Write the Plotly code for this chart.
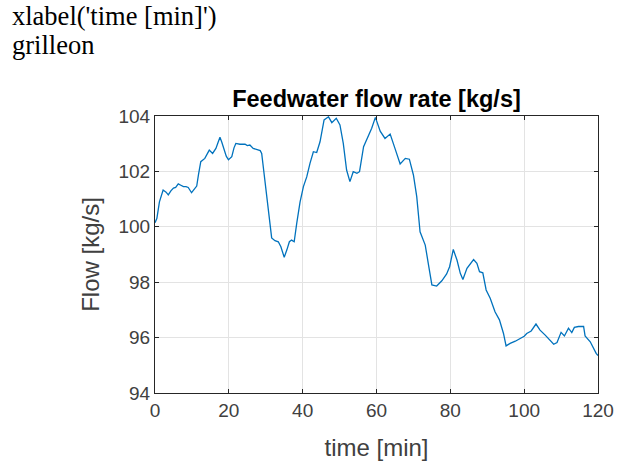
import plotly.graph_objects as go

time_min = [0.0, 0.5, 1.2, 2.2, 3.0, 3.6, 4.3, 5.0, 5.6, 6.3, 7.0, 7.7, 8.4, 9.0, 9.9, 10.6, 11.3, 11.8,
            12.4, 13.5, 14.1, 14.7, 15.6, 16.5, 17.1, 17.6, 18.1, 18.7, 19.3, 19.9, 20.8, 21.4, 21.9,
            23.0, 24.4, 25.0, 25.7, 26.6, 27.5, 28.5, 28.9, 29.5, 30.3, 31.0, 31.6, 32.5, 33.4, 34.1,
            34.5, 35.0, 35.7, 36.4, 37.0, 37.7, 38.4, 39.3, 40.2, 41.1, 42.0, 42.9, 43.8, 44.7, 45.3,
            45.8, 47.0, 47.9, 49.1, 50.1, 51.0, 51.9, 52.8, 53.7, 54.7, 55.4, 56.5, 57.8, 58.7, 59.7,
            60.4, 61.0, 62.3, 63.7, 65.0, 66.4, 67.8, 68.9, 70.0, 70.9, 71.8, 73.2, 74.1, 75.0, 76.3,
            77.7, 79.0, 79.8, 80.8, 81.8, 82.7, 83.4, 84.5, 85.4, 86.3, 87.2, 87.9, 88.8, 89.7, 90.8,
            92.1, 93.3, 94.4, 95.1, 96.2, 97.6, 98.9, 100.0, 100.7, 101.9, 103.2, 104.3, 105.7, 106.6,
            108.0, 108.9, 110.0, 110.9, 112.0, 112.9, 113.6, 114.7, 116.1, 116.5, 117.9, 119.5, 120.0]
flow_kgs = [100.15, 100.3, 100.9, 101.33, 101.25, 101.15, 101.3, 101.4, 101.42, 101.55, 101.5, 101.45,
            101.45, 101.42, 101.23, 101.35, 101.47, 101.9, 102.35, 102.47, 102.65, 102.77, 102.65,
            102.83, 103.05, 103.23, 103.05, 102.83, 102.55, 102.42, 102.53, 102.85, 103.01, 102.98,
            102.98, 102.93, 102.95, 102.83, 102.8, 102.75, 102.65, 102.0, 101.2, 100.4, 99.6, 99.5,
            99.46, 99.28, 99.1, 98.9, 99.16, 99.46, 99.52, 99.46, 100.13, 100.9, 101.45, 101.8, 102.3,
            102.71, 102.68, 103.07, 103.5, 103.86, 103.97, 103.76, 103.92, 103.68, 103.01, 102.05,
            101.63, 101.99, 101.93, 101.99, 102.89, 103.25, 103.56, 103.95, 103.7, 103.45, 103.19,
            103.35, 102.83, 102.27, 102.47, 102.44, 101.87, 101.09, 99.82, 99.34, 98.62, 97.9, 97.86,
            98.05, 98.3, 98.56, 99.18, 98.8, 98.32, 98.1, 98.5, 98.68, 98.82, 98.68, 98.38, 98.34,
            97.72, 97.42, 96.93, 96.64, 96.15, 95.7, 95.79, 95.87, 95.96, 96.05, 96.15, 96.24, 96.49,
            96.27, 96.09, 95.97, 95.76, 95.82, 96.19, 96.06, 96.34, 96.18, 96.37, 96.4, 96.4, 96.06,
            95.85, 95.43, 95.35]

x_ticks = [0, 20, 40, 60, 80, 100, 120]
y_ticks = [94, 96, 98, 100, 102, 104]

title_text = "Feedwater flow rate [kg/s]"
x_label = "time [min]"
y_label = "Flow [kg/s]"
code_lines = ["xlabel('time [min]')", "grilleon"]

axis_col = "#262626"
tick_col = "#404040"
grid_col = "#e3e3e3"
sans = "Liberation Sans, Arial, Helvetica"
serif = "Liberation Serif, Times New Roman"

fig = go.Figure()
fig.add_trace(go.Scatter(x=time_min, y=flow_kgs, mode="lines",
                         line=dict(color="#0072BD", width=1.3), showlegend=False))

common_axis = dict(showline=True, linecolor=axis_col, linewidth=1, mirror="ticks",
                   ticks="inside", ticklen=4, tickcolor=axis_col, automargin=False,
                   showgrid=True, gridcolor=grid_col, gridwidth=1, zeroline=False,
                   tickfont=dict(family=sans, size=19, color=tick_col),
                   title_font=dict(family=sans, size=24, color=tick_col))

fig.update_xaxes(range=[0, 120], tickvals=x_ticks, title_text=x_label,
                 title_standoff=19, **common_axis)
fig.update_yaxes(range=[94, 104], tickvals=y_ticks, title_text=y_label,
                 title_standoff=12, **common_axis)

fig.update_layout(
    width=624, height=463,
    margin=dict(l=155, r=26, t=116, b=70),
    paper_bgcolor="white", plot_bgcolor="white",
    title=dict(text="<b>" + title_text + "</b>", x=0.5, xref="paper", xanchor="center",
               y=1, yref="paper", yanchor="bottom", pad=dict(b=9),
               font=dict(family=sans, size=23.5, color="black")),
    annotations=[
        dict(text=code_lines[0], xref="paper", yref="paper", x=(10 - 155) / 443, y=(393 + 1) / 277,
             xanchor="left", yanchor="top", showarrow=False,
             font=dict(family=serif, size=26.5, color="black")),
        dict(text=code_lines[1], xref="paper", yref="paper", x=(10 - 155) / 443, y=(393 - 28) / 277,
             xanchor="left", yanchor="top", showarrow=False,
             font=dict(family=serif, size=26.5, color="black")),
    ],
)

fig.write_html("out.html")
